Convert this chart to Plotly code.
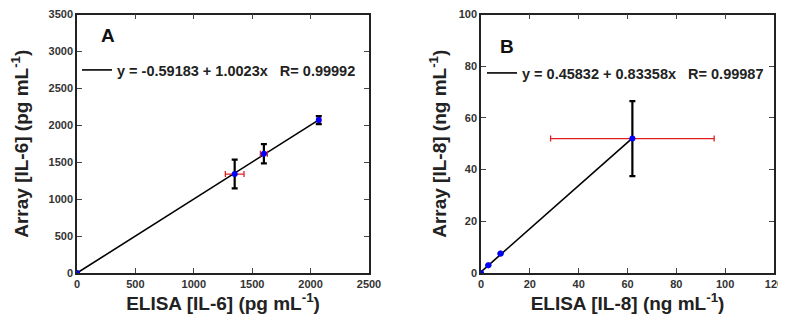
import plotly.graph_objects as go

# Panel A data (IL-6, pg/mL)
a_elisa = [0, 1350, 1600, 2070]
a_array = [0, 1340, 1615, 2070]
a_elisa_err = [0, 80, 30, 15]
a_array_err = [0, 195, 130, 55]
a_intercept, a_slope, a_r = -0.59183, 1.0023, 0.99992

# Panel B data (IL-8, ng/mL)
b_elisa = [0, 3, 8, 62]
b_array = [0, 3, 7.5, 52]
b_elisa_err = [0, 0, 0, 33.5]
b_array_err = [0, 0, 0, 14.5]
b_intercept, b_slope, b_r = 0.45832, 0.83358, 0.99987

FONT = "Liberation Sans, Arial, sans-serif"
W, H = 778, 311
OFF = 8  # page body margin offset

def px(x):
    return (x - OFF) / W

def py(y):
    return 1 - (y - OFF) / H

fig = go.Figure()

def add_panel(xs, ys, xe, ye, b0, b1, r, xa, ya, legend):
    xfit = [min(xs), max(xs)]
    yfit = [b0 + b1 * v for v in xfit]
    fig.add_trace(go.Scatter(
        x=xfit, y=yfit, mode="lines", xaxis=xa, yaxis=ya,
        line=dict(color="black", width=1.6),
        name=f"<b>y = {b0} + {b1}x   R= {r}</b>", legend=legend, showlegend=True))
    fig.add_trace(go.Scatter(
        x=xs, y=ys, mode="markers", xaxis=xa, yaxis=ya, showlegend=False,
        marker=dict(color="#0000ff", size=6),
        error_y=dict(type="data", array=ye, color="black", thickness=2.2, width=3),
        error_x=dict(type="data", array=xe, color="#e02020", thickness=1.3, width=3)))

add_panel(a_elisa, a_array, a_elisa_err, a_array_err, a_intercept, a_slope, a_r, "x", "y", "legend")
add_panel(b_elisa, b_array, b_elisa_err, b_array_err, b_intercept, b_slope, b_r, "x2", "y2", "legend2")

ydom = [py(273), py(14.5)]
axcommon = dict(showgrid=False, zeroline=False, showline=True, linecolor="#222", linewidth=1.5,
                mirror="ticks", ticks="inside", ticklen=5, tickwidth=1, tickcolor="#444",
                automargin=False, ticklabeloverflow="allow",
                tickfont=dict(family=FONT, size=11, color="#333", weight="bold"))
titlefont = dict(family=FONT, size=19, color="#222", weight="bold")

fig.update_layout(
    width=W, height=H, margin=dict(l=0, r=0, t=0, b=0, autoexpand=False),
    plot_bgcolor="white", paper_bgcolor="white",
    xaxis=dict(domain=[px(77), px(369)], range=[0, 2500], dtick=500, anchor="y",
               title=dict(text="ELISA [IL-6] (pg mL<sup>-1</sup>)", font=titlefont, standoff=0), **axcommon),
    yaxis=dict(domain=ydom, range=[0, 3500], dtick=500, anchor="x",
               title=dict(text="Array [IL-6] (pg mL<sup>-1</sup>)", font=titlefont, standoff=15), **axcommon),
    xaxis2=dict(domain=[px(481), px(774)], range=[0, 120], dtick=20, anchor="y2",
                title=dict(text="ELISA [IL-8] (ng mL<sup>-1</sup>)", font=titlefont, standoff=0), **axcommon),
    yaxis2=dict(domain=ydom, range=[0, 100], dtick=20, anchor="x2",
                title=dict(text="Array [IL-8] (ng mL<sup>-1</sup>)", font=titlefont, standoff=7), **axcommon),
    legend=dict(x=(69) / W, y=py(70), xanchor="left", yanchor="middle", bgcolor="rgba(0,0,0,0)",
                font=dict(family=FONT, size=14.5, color="#222"), itemwidth=30),
    legend2=dict(x=(474) / W, y=py(73), xanchor="left", yanchor="middle", bgcolor="rgba(0,0,0,0)",
                 font=dict(family=FONT, size=14.5, color="#222"), itemwidth=30),
    annotations=[
        dict(text="<b>A</b>", x=px(108), y=py(36), xref="paper", yref="paper", showarrow=False,
             xanchor="center", yanchor="middle", font=dict(family=FONT, size=19, color="#111")),
        dict(text="<b>B</b>", x=px(507), y=py(47), xref="paper", yref="paper", showarrow=False,
             xanchor="center", yanchor="middle", font=dict(family=FONT, size=19, color="#111")),
    ],
)

fig.write_html("out.html", default_width=f"{W}px", default_height=f"{H}px")
